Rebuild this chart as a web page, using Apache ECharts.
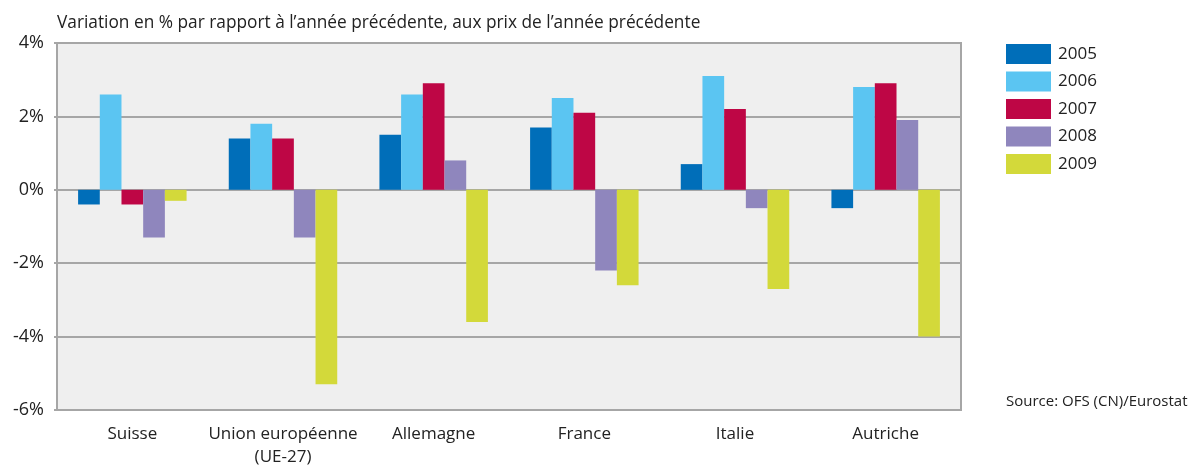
<!DOCTYPE html>
<html><head><meta charset="utf-8">
<script src="https://cdn.jsdelivr.net/npm/echarts@6/dist/echarts.min.js"></script>
<style>html,body{margin:0;padding:0;background:#fff}#c{width:1192px;height:465px}</style>
</head><body><div id="c"></div>
<script>
const categories = ['Suisse', 'Union européenne\n(UE-27)', 'Allemagne', 'France', 'Italie', 'Autriche'];
const years = ['2005', '2006', '2007', '2008', '2009'];
const v2005 = [-0.4, 1.4, 1.5, 1.7, 0.7, -0.5];
const v2006 = [2.6, 1.8, 2.6, 2.5, 3.1, 2.8];
const v2007 = [-0.4, 1.4, 2.9, 2.1, 2.2, 2.9];
const v2008 = [-1.3, -1.3, 0.8, -2.2, -0.5, 1.9];
const v2009 = [-0.3, -5.3, -3.6, -2.6, -2.7, -4.0];
const seriesData = [v2005, v2006, v2007, v2008, v2009];
const colors = ['#006eb9', '#5bc5f2', '#be0645', '#8f86bd', '#d3d93a'];
const FONT = 'Open Sans';

const chart = echarts.init(document.getElementById('c'), null, {renderer: 'canvas'});
chart.setOption({
  animation: false,
  textStyle: {fontFamily: FONT},
  title: {
    text: "Variation en % par rapport à l’année précédente, aux prix de l’année précédente",
    left: 52, top: 10,
    textStyle: {fontFamily: FONT, fontSize: 17.3, fontWeight: 'normal', color: '#222'}
  },
  graphic: [{
    type: 'text', left: 1006, top: 394,
    style: {text: 'Source: OFS (CN)/Eurostat', font: '15px "' + FONT + '"', fill: '#222'}
  }],
  legend: {
    orient: 'vertical', left: 1006, top: 44, padding: 0,
    itemWidth: 45, itemHeight: 20, itemGap: 7.5,
    icon: 'rect',
    textStyle: {fontFamily: FONT, fontSize: 17, color: '#222', padding: [0, 0, 0, 2]},
    data: years
  },
  grid: {
    left: 57, right: 231, top: 43, bottom: 55,
    outerBoundsMode: 'none', containLabel: false,
    show: true, backgroundColor: '#efefef', borderColor: '#a6a6a6', borderWidth: 2
  },
  xAxis: {
    type: 'category', data: categories,
    axisLine: {show: false}, axisTick: {show: false},
    axisLabel: {fontFamily: FONT, fontSize: 17, color: '#222', margin: 13, lineHeight: 23, interval: 0}
  },
  yAxis: {
    type: 'value', min: -6, max: 4, interval: 2,
    axisLine: {show: false},
    axisTick: {show: true, length: 3, lineStyle: {color: '#a6a6a6', width: 2}},
    axisLabel: {formatter: '{value}%', fontFamily: FONT, fontSize: 18, color: '#222', margin: 13},
    splitLine: {lineStyle: {color: '#a6a6a6', width: 2}}
  },
  series: years.map((y, i) => ({
    name: y, type: 'bar', data: seriesData[i],
    itemStyle: {color: colors[i]},
    barGap: '0%', barCategoryGap: '28%'
  }))
});
</script></body></html>
